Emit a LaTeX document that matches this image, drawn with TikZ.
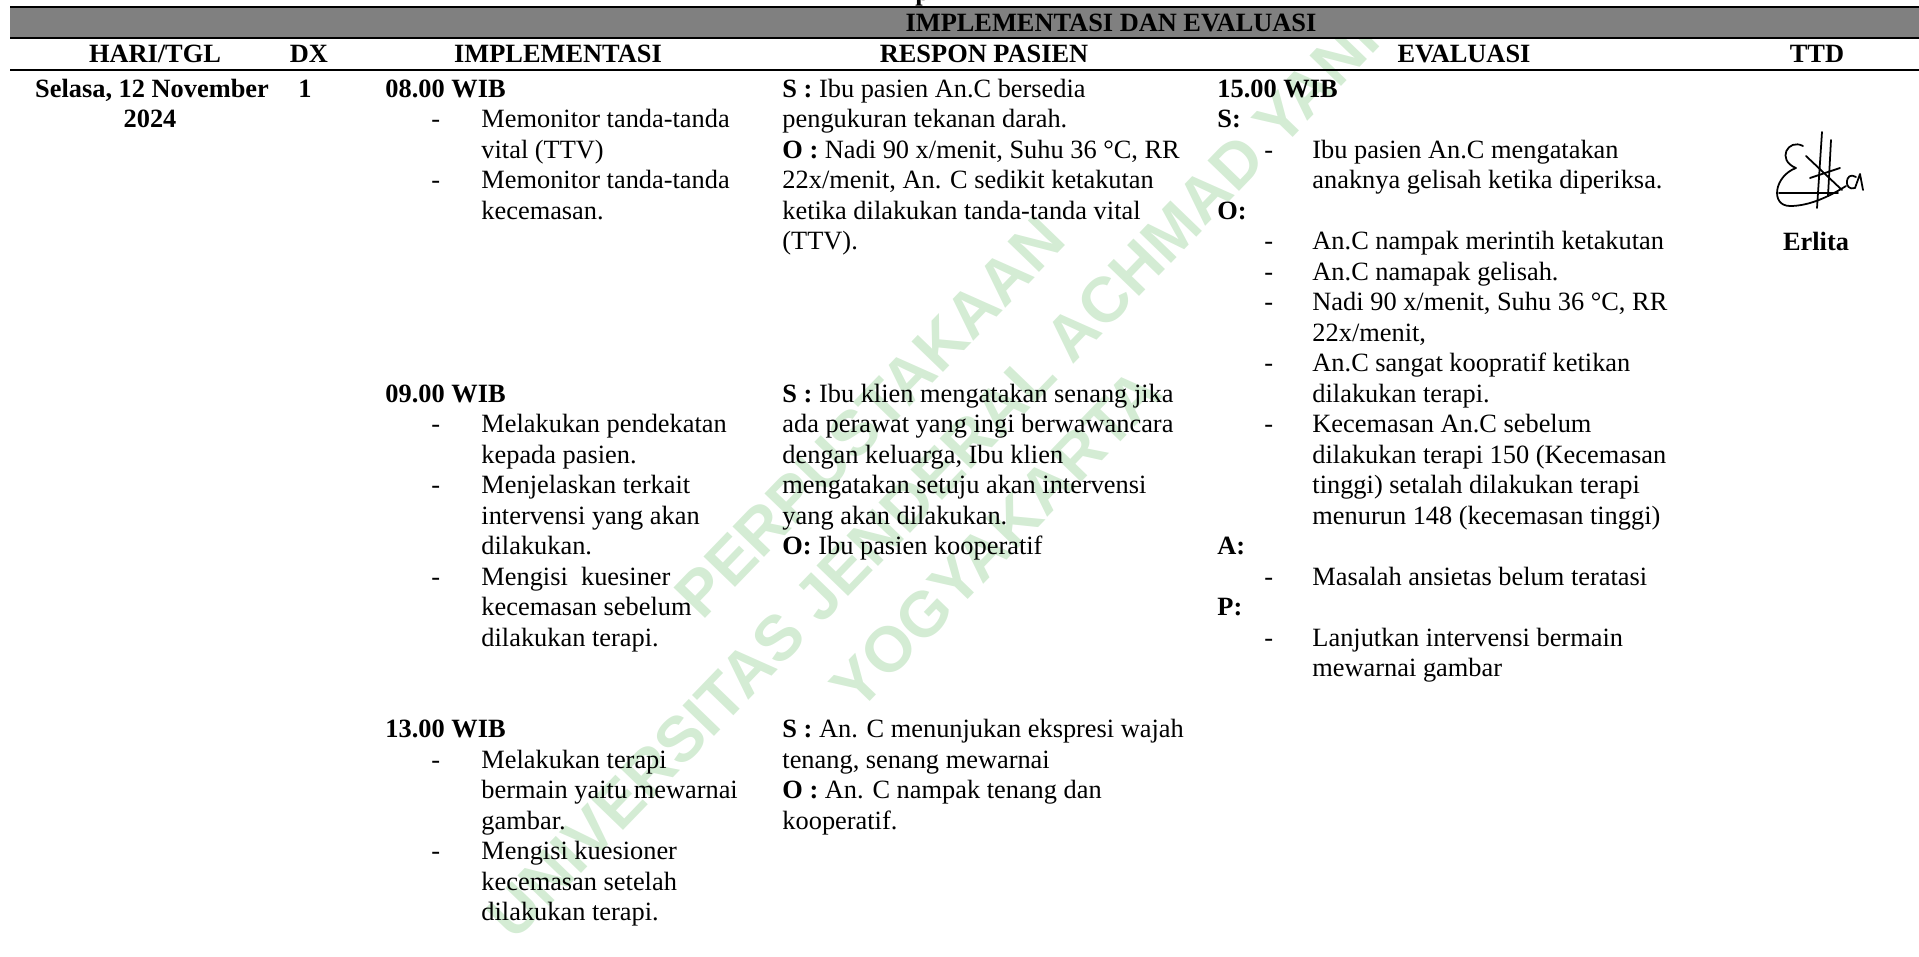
\documentclass[tikz,border=0pt]{standalone}
\usepackage{fontspec}
\setmainfont{Liberation Serif}
\newfontfamily\wmfont{Liberation Sans}
\definecolor{wmgreen}{RGB}{212,236,212}
\definecolor{bandgray}{RGB}{128,128,128}
\newcommand\putline[5]{\node[#1] (#2) at (#3,{97+30.5*(#4)}) {#5};}
\begin{document}
\begin{tikzpicture}[x=0.455pt,y=-0.455pt,
  txt/.style={anchor=base west,inner sep=0pt,font=\fontsize{12}{13.8}\selectfont},
  ctxt/.style={anchor=base,inner sep=0pt,font=\fontsize{12}{13.8}\selectfont},
  hd/.style={anchor=base,inner sep=0pt,font=\fontsize{12}{13.8}\selectfont\bfseries},
  rulethin/.style={line width=0.9pt},
  rulethick/.style={line width=1.1pt},
  sig/.style={line width=0.8pt,line cap=round,line join=round},
  wmtext/.style={inner sep=0pt,rotate=46,align=center,text=wmgreen,
    font=\wmfont\bfseries\fontsize{29}{40}\selectfont}]
\useasboundingbox (0,0) rectangle (1919,957);
% watermark
\node[wmtext] (wm) at (933,478) {PERPUSTAKAAN\\UNIVERSITAS JENDERAL ACHMAD YANI\\YOGYAKARTA};
% cropped title fragment at the top edge
\node[txt,font=\fontsize{12}{13.8}\selectfont\bfseries] (ttl) at (915,0.5) {p};
% band and rules
\fill[bandgray] (10,8) rectangle (1919,37);
\coordinate (r1a) at (10,7);  \coordinate (r1b) at (1919,7);
\coordinate (r2a) at (10,38); \coordinate (r2b) at (1919,38);
\coordinate (r3a) at (10,70); \coordinate (r3b) at (1919,70);
\draw[rulethin] (r1a) -- (r1b);
\draw[rulethin] (r2a) -- (r2b);
\draw[rulethick] (r3a) -- (r3b);
\node[hd] (band) at (1111,31.5) {IMPLEMENTASI DAN EVALUASI};
% headers
\node[hd] (h1) at (155,62) {HARI/TGL};
\node[hd] (h2) at (309,62) {DX};
\node[hd] (h3) at (558,62) {IMPLEMENTASI};
\node[hd] (h4) at (984,62) {RESPON PASIEN};
\node[hd] (h5) at (1464,62) {EVALUASI};
\node[hd] (h6) at (1817,62) {TTD};
% column 1 and 2
\putline{hd}{d1}{152}{0}{Selasa, 12 November}
\putline{hd}{d2}{150}{1}{2024}
\putline{hd}{dx}{305}{0}{1}
% implementasi
\putline{txt}{i0}{385}{0}{\textbf{08.00 WIB}}
\putline{txt}{i1d}{431}{1}{-}
\putline{txt}{i1}{481}{1}{Memonitor tanda-tanda}
\putline{txt}{i2}{481}{2}{vital (TTV)}
\putline{txt}{i3d}{431}{3}{-}
\putline{txt}{i3}{481}{3}{Memonitor tanda-tanda}
\putline{txt}{i4}{481}{4}{kecemasan.}
\putline{txt}{i10}{385}{10}{\textbf{09.00 WIB}}
\putline{txt}{i11d}{431}{11}{-}
\putline{txt}{i11}{481}{11}{Melakukan pendekatan}
\putline{txt}{i12}{481}{12}{kepada pasien.}
\putline{txt}{i13d}{431}{13}{-}
\putline{txt}{i13}{481}{13}{Menjelaskan terkait}
\putline{txt}{i14}{481}{14}{intervensi yang akan}
\putline{txt}{i15}{481}{15}{dilakukan.}
\putline{txt}{i16d}{431}{16}{-}
\putline{txt}{i16}{481}{16}{Mengisi\ \ kuesiner}
\putline{txt}{i17}{481}{17}{kecemasan sebelum}
\putline{txt}{i18}{481}{18}{dilakukan terapi.}
\putline{txt}{i21}{385}{21}{\textbf{13.00 WIB}}
\putline{txt}{i22d}{431}{22}{-}
\putline{txt}{i22}{481}{22}{Melakukan terapi}
\putline{txt}{i23}{481}{23}{bermain yaitu mewarnai}
\putline{txt}{i24}{481}{24}{gambar.}
\putline{txt}{i25d}{431}{25}{-}
\putline{txt}{i25}{481}{25}{Mengisi kuesioner}
\putline{txt}{i26}{481}{26}{kecemasan setelah}
\putline{txt}{i27}{481}{27}{dilakukan terapi.}
% respon pasien
\putline{txt}{r0}{782}{0}{\textbf{S :} Ibu pasien An.C bersedia}
\putline{txt}{r1}{782}{1}{pengukuran tekanan darah.}
\putline{txt}{r2}{782}{2}{\textbf{O :} Nadi 90 x/menit, Suhu 36 °C, RR}
\putline{txt}{r3}{782}{3}{22x/menit, An. C sedikit ketakutan}
\putline{txt}{r4}{782}{4}{ketika dilakukan tanda-tanda vital}
\putline{txt}{r5}{782}{5}{(TTV).}
\putline{txt}{r10}{782}{10}{\textbf{S :} Ibu klien mengatakan senang jika}
\putline{txt}{r11}{782}{11}{ada perawat yang ingi berwawancara}
\putline{txt}{r12}{782}{12}{dengan keluarga, Ibu klien}
\putline{txt}{r13}{782}{13}{mengatakan setuju akan intervensi}
\putline{txt}{r14}{782}{14}{yang akan dilakukan.}
\putline{txt}{r15}{782}{15}{\textbf{O:} Ibu pasien kooperatif}
\putline{txt}{r21}{782}{21}{\textbf{S :} An. C menunjukan ekspresi wajah}
\putline{txt}{r22}{782}{22}{tenang, senang mewarnai}
\putline{txt}{r23}{782}{23}{\textbf{O :} An. C nampak tenang dan}
\putline{txt}{r24}{782}{24}{kooperatif.}
% evaluasi
\putline{txt}{e0}{1217}{0}{\textbf{15.00 WIB}}
\putline{txt}{e1}{1217}{1}{\textbf{S:}}
\putline{txt}{e2d}{1264}{2}{-}
\putline{txt}{e2}{1312}{2}{Ibu pasien An.C mengatakan}
\putline{txt}{e3}{1312}{3}{anaknya gelisah ketika diperiksa.}
\putline{txt}{e4}{1217}{4}{\textbf{O:}}
\putline{txt}{e5d}{1264}{5}{-}
\putline{txt}{e5}{1312}{5}{An.C nampak merintih ketakutan}
\putline{txt}{e6d}{1264}{6}{-}
\putline{txt}{e6}{1312}{6}{An.C namapak gelisah.}
\putline{txt}{e7d}{1264}{7}{-}
\putline{txt}{e7}{1312}{7}{Nadi 90 x/menit, Suhu 36 °C, RR}
\putline{txt}{e8}{1312}{8}{22x/menit,}
\putline{txt}{e9d}{1264}{9}{-}
\putline{txt}{e9}{1312}{9}{An.C sangat koopratif ketikan}
\putline{txt}{e10}{1312}{10}{dilakukan terapi.}
\putline{txt}{e11d}{1264}{11}{-}
\putline{txt}{e11}{1312}{11}{Kecemasan An.C sebelum}
\putline{txt}{e12}{1312}{12}{dilakukan terapi 150 (Kecemasan}
\putline{txt}{e13}{1312}{13}{tinggi) setalah dilakukan terapi}
\putline{txt}{e14}{1312}{14}{menurun 148 (kecemasan tinggi)}
\putline{txt}{e15}{1217}{15}{\textbf{A:}}
\putline{txt}{e16d}{1264}{16}{-}
\putline{txt}{e16}{1312}{16}{Masalah ansietas belum teratasi}
\putline{txt}{e17}{1217}{17}{\textbf{P:}}
\putline{txt}{e18d}{1264}{18}{-}
\putline{txt}{e18}{1312}{18}{Lanjutkan intervensi bermain}
\putline{txt}{e19}{1312}{19}{mewarnai gambar}
% signature
\draw[sig] (1803,146) .. controls (1788,138) and (1776,160) .. (1796,168)
  .. controls (1774,176) and (1770,206) .. (1790,206)
  .. controls (1810,206) and (1830,196) .. (1846,186);
\draw[sig] (1779,193) -- (1838,193);
\draw[sig] (1822,132) -- (1817,208);
\draw[sig] (1831,140) -- (1828,196);
\draw[sig] (1806,156) -- (1842,190);
\draw[sig] (1810,178) -- (1840,168);
\draw[sig] (1856,177) .. controls (1845,170) and (1843,192) .. (1855,188)
  -- (1860,174) -- (1863,190);
\node[hd] (sign) at (1816,250) {Erlita};
\end{tikzpicture}
\end{document}
